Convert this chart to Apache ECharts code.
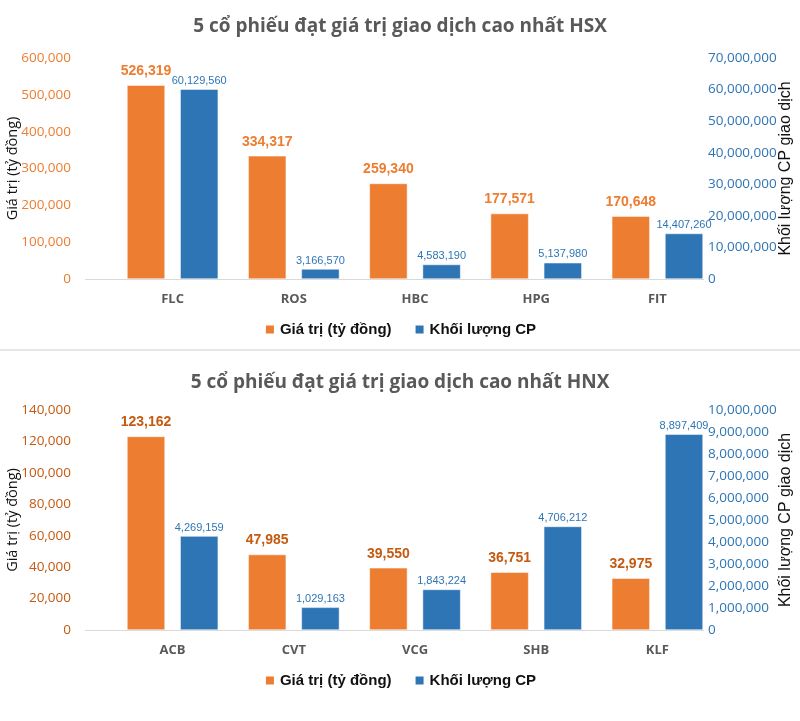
<!DOCTYPE html>
<html>
<head>
<meta charset="utf-8">
<script src="https://cdn.jsdelivr.net/npm/echarts@6/dist/echarts.min.js"></script>
<style>
html,body{margin:0;padding:0;background:#fff;}
#c1{position:absolute;left:0;top:0;width:800px;height:350px;}
#sep{position:absolute;left:0;top:349px;width:800px;height:0;border-top:2px solid #e6e6e6;}
#c2{position:absolute;left:0;top:352px;width:800px;height:369px;}
</style>
</head>
<body>
<div id="c1"></div>
<div id="sep"></div>
<div id="c2"></div>
<script>
const hsxTitle = '5 cổ phiếu đạt giá trị giao dịch cao nhất HSX';
const hsxCategories = ['FLC', 'ROS', 'HBC', 'HPG', 'FIT'];
const hsxValue = [526319, 334317, 259340, 177571, 170648];
const hsxVolume = [60129560, 3166570, 4583190, 5137980, 14407260];

const hnxTitle = '5 cổ phiếu đạt giá trị giao dịch cao nhất HNX';
const hnxCategories = ['ACB', 'CVT', 'VCG', 'SHB', 'KLF'];
const hnxValue = [123162, 47985, 39550, 36751, 32975];
const hnxVolume = [4269159, 1029163, 1843224, 4706212, 8897409];

const seriesNames = ['Giá trị (tỷ đồng)', 'Khối lượng CP'];
const leftName = 'Giá trị (tỷ đồng)';
const rightName = 'Khối lượng CP giao dịch';

const ORANGE = '#ED7D31';
const BLUE = '#2E75B6';
const fmt = v => Math.round(v).toLocaleString('en-US');

function build(cfg) {
  return {
    animation: false,
    textStyle: {fontFamily: 'Liberation Sans'},
    title: {
      text: cfg.title, left: 'center', top: cfg.titleTop,
      textStyle: {fontFamily: 'Open Sans', fontWeight: 'bold', fontSize: 19, color: '#595959'}
    },
    legend: {
      top: cfg.legendTop, left: 'center', itemWidth: 10, itemHeight: 10, itemGap: 22,
      icon: 'rect',
      textStyle: {fontFamily: 'Liberation Sans', fontWeight: 'bold', fontSize: 15, color: '#111'},
      data: seriesNames
    },
    grid: {left: 112, right: 82, top: cfg.gridTop, bottom: cfg.gridBottom,
      containLabel: false, outerBoundsMode: 'none'},
    xAxis: {
      type: 'category', data: cfg.categories,
      axisTick: {show: false},
      axisLine: {show: false},
      axisLabel: {margin: 14, fontFamily: 'Open Sans', fontWeight: 'bold', fontSize: 13, color: '#595959'}
    },
    yAxis: [
      {
        type: 'value', min: 0, max: cfg.lMax, interval: cfg.lInt,
        splitLine: {show: false}, axisLine: {show: false}, axisTick: {show: false},
        axisLabel: {formatter: fmt, fontFamily: 'Open Sans', fontSize: 13.5, color: cfg.leftColor, margin: 41},
        name: leftName, nameLocation: 'middle', nameGap: 92, nameRotate: 90, nameMoveOverlap: false,
        nameTextStyle: {fontFamily: 'Open Sans', fontSize: 14.5, color: '#111'}
      },
      {
        type: 'value', min: 0, max: cfg.rMax, interval: cfg.rInt, position: 'right',
        splitLine: {show: false}, axisLine: {show: false}, axisTick: {show: false},
        axisLabel: {formatter: fmt, fontFamily: 'Open Sans', fontSize: 13.5, color: '#2E75B6', margin: -10},
        name: rightName, nameLocation: 'middle', nameGap: 60, nameRotate: 90, nameMoveOverlap: false,
        nameTextStyle: {fontFamily: 'Liberation Sans', fontSize: 16, color: '#111'}
      }
    ],
    series: [
      {
        name: seriesNames[0], type: 'bar', yAxisIndex: 0, data: cfg.values,
        barWidth: 38, barGap: '40%',
        itemStyle: {color: ORANGE, borderColor: '#fff', borderWidth: 0.5},
        label: {show: true, position: 'top', distance: 7, formatter: p => fmt(p.value),
          fontFamily: 'Liberation Sans', fontWeight: 'bold', fontSize: 14, color: cfg.valueLabelColor}
      },
      {
        name: seriesNames[1], type: 'bar', yAxisIndex: 1, data: cfg.volumes,
        barWidth: 38,
        itemStyle: {color: BLUE, borderColor: '#fff', borderWidth: 0.5},
        label: {show: true, position: 'top', distance: 3, formatter: p => fmt(p.value),
          fontFamily: 'Liberation Sans', fontSize: 11, color: '#2E75B6'}
      }
    ]
  };
}

function addBaseline(chart) {
  const y = chart.convertToPixel({yAxisIndex: 0}, 0);
  chart.setOption({
    graphic: [{type: 'line', shape: {x1: 85, y1: y + 0.5, x2: 704, y2: y + 0.5},
      style: {stroke: '#d9d9d9', lineWidth: 1}, silent: true, z: 1}]
  });
}

const c1 = echarts.init(document.getElementById('c1'));
c1.setOption(build({
  title: hsxTitle, titleTop: 12, legendTop: 317, gridTop: 58, gridBottom: 71,
  categories: hsxCategories, values: hsxValue, volumes: hsxVolume,
  lMax: 600000, lInt: 100000, rMax: 70000000, rInt: 10000000,
  leftColor: '#ED7D31', valueLabelColor: '#ED7D31'
}));
addBaseline(c1);

const c2 = echarts.init(document.getElementById('c2'));
c2.setOption(build({
  title: hnxTitle, titleTop: 16, legendTop: 316, gridTop: 58, gridBottom: 91,
  categories: hnxCategories, values: hnxValue, volumes: hnxVolume,
  lMax: 140000, lInt: 20000, rMax: 10000000, rInt: 1000000,
  leftColor: '#C55A11', valueLabelColor: '#C55A11'
}));
addBaseline(c2);
</script>
</body>
</html>
